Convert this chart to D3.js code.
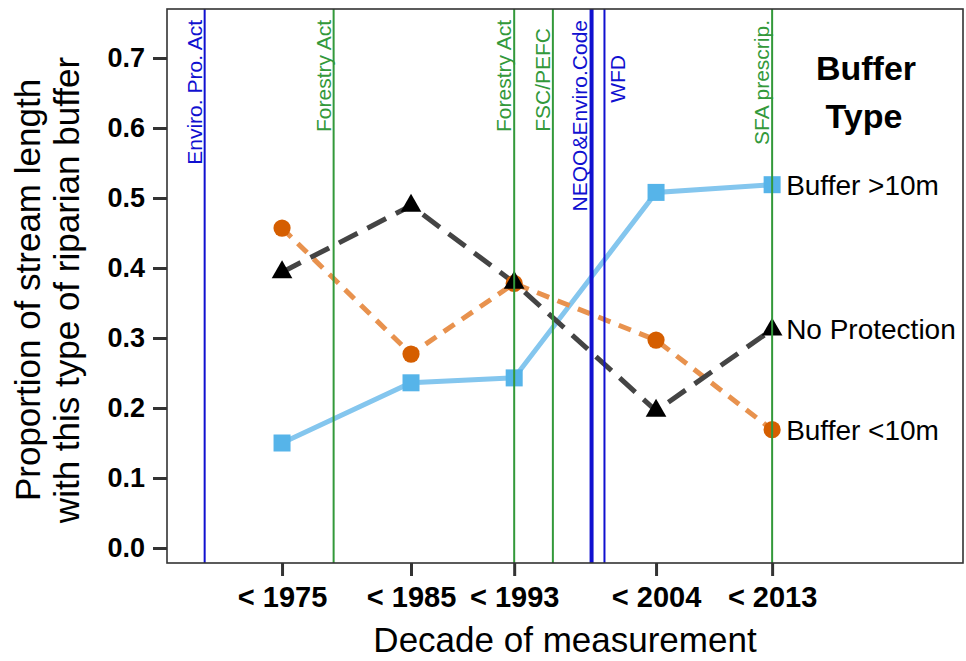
<!DOCTYPE html>
<html>
<head>
<meta charset="utf-8">
<script src="https://cdn.jsdelivr.net/npm/d3@7.9.0/dist/d3.min.js"></script>
<style>
  html, body { margin: 0; padding: 0; background: #fff; }
  svg { display: block; font-family: "Liberation Sans", Arial, sans-serif; }
</style>
</head>
<body>
<svg id="chart" width="966" height="661"></svg>
<script>
const decades = ["< 1975", "< 1985", "< 1993", "< 2004", "< 2013"];
const decadeYears = [1975, 1985, 1993, 2004, 2013];

const bufferOver10 = [0.150, 0.236, 0.243, 0.508, 0.519];
const bufferUnder10 = [0.457, 0.277, 0.378, 0.297, 0.169];
const noProtection = [0.394, 0.489, 0.379, 0.196, 0.312];

const yTicks = [0, 0.1, 0.2, 0.3, 0.4, 0.5, 0.6, 0.7];

const eventNames = [
  "Enviro. Pro. Act", "Forestry Act", "Forestry Act", "FSC/PEFC",
  "NEQO&Enviro.Code", "WFD", "SFA prescrip.",
];
const eventYears = [1969, 1979, 1993, 1996, 1999, 2000, 2013];
const eventKinds = ["env", "forest", "forest", "forest", "env", "env", "forest"];

const seriesNames = ["Buffer >10m", "No Protection", "Buffer <10m"];

const width = 966;
const height = 661;
const margin = { top: 9, right: 3, bottom: 99, left: 167 };

const svg = d3.select("#chart");

const x = d3.scaleLinear()
  .domain([1966.08, 2027.8])
  .range([margin.left, width - margin.right]);

const y = d3.scaleLinear()
  .domain([0, 0.7])
  .range([548, 58]);

const plotTop = margin.top;
const plotBottom = height - margin.bottom + 1;

const kindColor = { env: "#1010d0", forest: "#33993a" };

// which labels sit to the right of their line, and which start lower
const labelRight = { "WFD": true };
const labelTop = { "WFD": 55, "FSC/PEFC": 28 };

// --- series lines
const line = d3.line()
  .x((d, i) => x(decadeYears[i]))
  .y((d) => y(d));

svg.append("path")
  .datum(bufferOver10)
  .attr("d", line)
  .attr("fill", "none")
  .attr("stroke", "#84c6ee")
  .attr("stroke-width", 5);

svg.append("path")
  .datum(bufferUnder10)
  .attr("d", line)
  .attr("fill", "none")
  .attr("stroke", "#e8924e")
  .attr("stroke-width", 5)
  .attr("stroke-dasharray", "13,9");

svg.append("path")
  .datum(noProtection)
  .attr("d", line)
  .attr("fill", "none")
  .attr("stroke", "#444")
  .attr("stroke-width", 5)
  .attr("stroke-dasharray", "21,11");

// --- points
svg.selectAll("rect.sq")
  .data(bufferOver10)
  .join("rect")
  .attr("class", "sq")
  .attr("x", (d, i) => x(decadeYears[i]) - 8.5)
  .attr("y", (d) => y(d) - 8.5)
  .attr("width", 17)
  .attr("height", 17)
  .attr("fill", "#56b4e9");

svg.selectAll("circle.pt")
  .data(bufferUnder10)
  .join("circle")
  .attr("class", "pt")
  .attr("cx", (d, i) => x(decadeYears[i]))
  .attr("cy", (d) => y(d))
  .attr("r", 8.6)
  .attr("fill", "#d55e00");

const tri = d3.symbol().type(d3.symbolTriangle).size(185);
svg.selectAll("path.tri")
  .data(noProtection)
  .join("path")
  .attr("class", "tri")
  .attr("d", tri)
  .attr("transform", (d, i) => `translate(${x(decadeYears[i])},${y(d)})`)
  .attr("fill", "#000");

// --- policy lines on top
eventYears.forEach((yr, i) => {
  const name = eventNames[i];
  const color = kindColor[eventKinds[i]];
  const lx = x(yr);
  svg.append("line")
    .attr("x1", lx).attr("x2", lx)
    .attr("y1", plotTop).attr("y2", plotBottom)
    .attr("stroke", color)
    .attr("stroke-width", name.startsWith("NEQO") ? 4 : 2);

  const bx = labelRight[name] ? lx + 21 : lx - (name.startsWith("NEQO") ? 5 : 3);
  svg.append("text")
    .attr("transform", `translate(${bx},${labelTop[name] ?? 20}) rotate(-90)`)
    .attr("text-anchor", "end")
    .attr("font-size", 21)
    .attr("fill", color)
    .text(name);
});

// --- panel border
svg.append("rect")
  .attr("x", margin.left)
  .attr("y", plotTop)
  .attr("width", width - margin.right - margin.left)
  .attr("height", plotBottom - plotTop)
  .attr("fill", "none")
  .attr("stroke", "#333")
  .attr("stroke-width", 1.6);

// --- axes
const yAxis = d3.axisLeft(y)
  .tickValues(yTicks)
  .tickFormat(d3.format(".1f"))
  .tickSize(14)
  .tickPadding(8);

svg.append("g")
  .attr("transform", `translate(${margin.left},0)`)
  .call(yAxis)
  .call((g) => g.select(".domain").remove())
  .call((g) => g.selectAll(".tick line").attr("stroke", "#333").attr("stroke-width", 3))
  .call((g) => g.selectAll(".tick text")
    .attr("font-size", 27)
    .attr("font-weight", "bold")
    .attr("fill", "#000")
    .attr("font-family", "Liberation Sans, Arial, sans-serif"));

const xAxis = d3.axisBottom(x)
  .tickValues(decadeYears)
  .tickFormat((d, i) => decades[i])
  .tickSize(13)
  .tickPadding(10);

svg.append("g")
  .attr("transform", `translate(0,${plotBottom})`)
  .call(xAxis)
  .call((g) => g.select(".domain").remove())
  .call((g) => g.selectAll(".tick line").attr("stroke", "#333").attr("stroke-width", 3))
  .call((g) => g.selectAll(".tick text")
    .attr("font-size", 29)
    .attr("font-weight", "bold")
    .attr("fill", "#000")
    .attr("font-family", "Liberation Sans, Arial, sans-serif"));

// --- axis titles
svg.append("text")
  .attr("x", (margin.left + width - margin.right) / 2)
  .attr("y", 652)
  .attr("text-anchor", "middle")
  .attr("font-size", 35)
  .text("Decade of measurement");

const yTitle = svg.append("text")
  .attr("transform", "translate(0,290) rotate(-90)")
  .attr("text-anchor", "middle")
  .attr("font-size", 35);
yTitle.append("tspan").attr("x", 0).attr("y", 40).text("Proportion of stream length");
yTitle.append("tspan").attr("x", 0).attr("y", 79).text("with this type of riparian buffer");

// --- direct labels
const lastValues = [bufferOver10[4], noProtection[4], bufferUnder10[4]];
svg.selectAll("text.slab")
  .data(seriesNames)
  .join("text")
  .attr("class", "slab")
  .attr("x", x(decadeYears[4]) + 14)
  .attr("y", (d, i) => y(lastValues[i]))
  .attr("dy", "0.35em")
  .attr("font-size", 28)
  .text((d) => d);

const legendTitle = svg.append("text")
  .attr("text-anchor", "middle")
  .attr("font-size", 34)
  .attr("font-weight", "bold");
legendTitle.append("tspan").attr("x", 866).attr("y", 80).text("Buffer");
legendTitle.append("tspan").attr("x", 864).attr("y", 128).text("Type");
</script>
</body>
</html>
